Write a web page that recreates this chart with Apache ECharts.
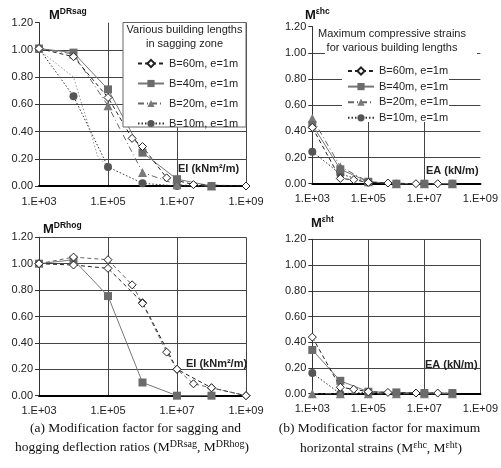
<!DOCTYPE html>
<html><head><meta charset="utf-8">
<script src="https://cdn.jsdelivr.net/npm/echarts@6/dist/echarts.min.js"></script>
<style>html,body{margin:0;padding:0;background:#fff}#c{width:501px;height:468px}</style>
</head><body><div id="c"></div>
<script>
// ---------- data ----------
const seriesNames = ['B=60m, e=1m', 'B=40m, e=1m', 'B=20m, e=1m', 'B=10m, e=1m'];
const xMin = 1e3, xMax = 1e9;
const yMin = 0, yMax = 1.2, yStep = 0.2;

// (a) sagging
const sagB60 = [[1e3,1.01],[1e4,0.95],[1e5,0.65],[5e5,0.35],[1e6,0.29],[5e6,0.06],[3e7,0.01],[1e9,0.0]];
const sagB40 = [[1e3,1.01],[1e4,0.98],[1e5,0.71],[1e6,0.245],[1e7,0.05],[1e8,0.0]];
const sagB20 = [[1e3,1.01],[1e4,0.97],[1e5,0.59],[1e6,0.10],[1e7,0.01],[1e8,0.0]];
const sagB10 = [[1e3,1.01],[1e4,0.66],[1e5,0.14],[1e6,0.02],[1e7,0.0],[1e8,0.0]];
const sagExtra = [[1e3,1.0],[1e4,0.80],[3e4,0.41],[5e4,0.22],[1e5,0.14]];
// (b) compressive strain
const hcB60 = [[1e3,0.43],[1e4,0.04],[3e4,0.03],[1e5,0.01],[5e5,0.005],[5e6,0.0],[3e7,0.0]];
const hcB40 = [[1e3,0.45],[1e4,0.11],[1e5,0.015],[1e6,0.0],[1e7,0.0],[1e8,0.0]];
const hcB20 = [[1e3,0.50],[1e4,0.13],[1e5,0.015],[1e6,0.0],[1e7,0.0],[1e8,0.0]];
const hcB10 = [[1e3,0.245],[1e4,0.075],[1e5,0.01],[1e6,0.0],[1e7,0.0],[1e8,0.0]];
// (a) hogging
const hogB60a = [[1e3,1.0],[1e4,1.05],[1e5,1.03],[5e5,0.84],[1e6,0.70],[5e6,0.33],[1e7,0.20],[3e7,0.09],[1e8,0.06],[1e9,0.0]];
const hogB60b = [[1e3,1.0],[1e4,0.99],[1e5,0.965],[1e6,0.705],[1e7,0.20],[1e8,0.06],[1e9,0.0]];
const hogB40 = [[1e3,1.0],[1e4,1.03],[1e5,0.755],[1e6,0.10],[1e7,0.0],[1e8,0.0]];
// (b) tensile strain
const htB60 = [[1e3,0.44],[1e4,0.05],[3e4,0.035],[1e5,0.015],[5e5,0.01],[5e6,0.005],[3e7,0.005]];
const htB40 = [[1e3,0.34],[1e4,0.10],[1e5,0.015],[1e6,0.01],[1e7,0.005],[1e8,0.005]];
const htB20 = [[1e3,0.0],[1e4,0.0],[1e5,0.0],[1e6,0.0],[1e7,0.0],[1e8,0.0]];
const htB10 = [[1e3,0.16],[1e4,0.0],[1e5,0.01],[1e6,0.005],[1e7,0.005],[1e8,0.005]];

// ---------- styles ----------
const SANS = 'Liberation Sans, Arial, sans-serif';
const SERIF = 'Liberation Serif, Times New Roman, serif';
const st = {
  B60: {symbol:'diamond', symbolSize:8, itemStyle:{color:'#fff', borderColor:'#222', borderWidth:1}, lineStyle:{color:'#222', width:1, type:[4,3]}},
  B40: {symbol:'rect', symbolSize:8, itemStyle:{color:'#6b6b6b'}, lineStyle:{color:'#777', width:1, type:'solid'}},
  B20: {symbol:'triangle', symbolSize:9, itemStyle:{color:'#7a7a7a'}, lineStyle:{color:'#666', width:1, type:[6,3,1,3]}},
  B10: {symbol:'circle', symbolSize:8, itemStyle:{color:'#555'}, lineStyle:{color:'#333', width:1, type:[1.5,2]}}
};
function S(name, key, data, g, extra) {
  return Object.assign({
    type:'line', name, data, xAxisIndex:g, yAxisIndex:g, clip:false,
    symbol: st[key].symbol, symbolSize: st[key].symbolSize,
    itemStyle: st[key].itemStyle, lineStyle: st[key].lineStyle,
    emphasis:{disabled:true}, animation:false, z: 3
  }, extra || {});
}

const grids = [
  {left:39, top:22.7, width:207, height:163.3},
  {left:312.3, top:26.7, width:169.7, height:157},
  {left:39, top:237.3, width:207, height:158.4},
  {left:312.3, top:239.3, width:169.7, height:154.4}
];
const showTop = [false, false, true, true];
const showRight = [true, false, true, true];

function xLabel(v){
  const e = Math.round(Math.log10(v));
  return (e % 2 === 1) ? '1.E+' + String(e).padStart(2,'0') : '';
}
const xAxes = grids.map((g,i)=>({
  type:'log', logBase:10, min:xMin, max:xMax, interval:1, gridIndex:i,
  axisLine:{show:true, onZero:false, lineStyle:{color:'#000', width:2}},
  axisTick:{show:false},
  axisLabel:{formatter:xLabel, fontSize:11, color:'#222', fontFamily:SANS, margin:10, showMinLabel:true, showMaxLabel:true},
  splitLine:{show:true, showMinLine:true, showMaxLine:showRight[i], lineStyle:{color:['#444','rgba(0,0,0,0)'], width:1}}
}));
const yAxes = grids.map((g,i)=>({
  type:'value', min:yMin, max:yMax, interval:yStep, gridIndex:i,
  axisLine:{show:true, lineStyle:{color:'#333', width:1}},
  axisTick:{show:true, length:4, lineStyle:{color:'#333'}},
  axisLabel:{formatter:v=>v.toFixed(2), fontSize:11, color:'#222', fontFamily:SANS, margin:6},
  splitLine:{show:true, showMinLine:false, showMaxLine:showTop[i], lineStyle:{color:'#444', width:1}}
}));

const series = [
  S(seriesNames[3], 'B10', sagB10, 0),
  S('extra', 'B10', sagExtra, 0, {symbol:'none', lineStyle:{color:'#999', width:1, type:[1.5,2]}}),
  S(seriesNames[2], 'B20', sagB20, 0),
  S(seriesNames[1], 'B40', sagB40, 0),
  S(seriesNames[0], 'B60', sagB60, 0),
  S(seriesNames[3], 'B10', hcB10, 1),
  S(seriesNames[2], 'B20', hcB20, 1),
  S(seriesNames[1], 'B40', hcB40, 1),
  S(seriesNames[0], 'B60', hcB60, 1),
  S(seriesNames[1], 'B40', hogB40, 2),
  S(seriesNames[0], 'B60', hogB60b, 2),
  S(seriesNames[0], 'B60', hogB60a, 2, {lineStyle:{color:'#666', width:1, type:[4,3]}}),
  S(seriesNames[3], 'B10', htB10, 3),
  S(seriesNames[2], 'B20', htB20, 3),
  S(seriesNames[1], 'B40', htB40, 3),
  S(seriesNames[0], 'B60', htB60, 3)
];

const legendBase = {
  orient:'vertical', data:seriesNames, itemWidth:26, itemHeight:9, padding:0,
  textStyle:{fontSize:11, color:'#222', fontFamily:SANS}, selectedMode:false, z:6
};
const legends = [
  Object.assign({}, legendBase, {left:137, top:58, itemGap:9}),
  Object.assign({}, legendBase, {left:347, top:65.5, itemGap:4.6})
];

function txt(x, y, text, font, align, extra) {
  return Object.assign({type:'text', z:7, silent:true, style:{x, y, text, font, fill:'#222', textAlign:align||'left', textVerticalAlign:'middle'}}, extra||{});
}
function mTitle(x, y, sup) {
  return {type:'text', z:7, silent:true, style:{x, y, text:'{m|M}{s|'+sup+'}', textAlign:'left', textVerticalAlign:'bottom',
    rich:{m:{fontSize:13, fontWeight:'bold', fontFamily:SANS, fill:'#111', verticalAlign:'bottom'},
          s:{fontSize:8.5, fontWeight:'bold', fontFamily:SANS, fill:'#111', verticalAlign:'bottom', padding:[0,0,6,0]}}}};
}
function caption(x, y, text) {
  return {type:'text', z:7, silent:true, style:{x, y, text, textAlign:'center', textVerticalAlign:'middle',
    rich:{n:{fontSize:13.5, fontFamily:SERIF, fill:'#111', verticalAlign:'bottom'},
          s:{fontSize:10, fontFamily:SERIF, fill:'#111', verticalAlign:'bottom', padding:[0,0,5,0]}}}};
}

const graphic = [
  // legend boxes
  {type:'rect', z:4, silent:true, shape:{x:123, y:22.5, width:123, height:104.5}, style:{fill:'#fff', stroke:'#666', lineWidth:1}},
  {type:'rect', z:4, silent:true, shape:{x:325, y:26, width:152, height:34}, style:{fill:'#fff'}},
  {type:'rect', z:4, silent:true, shape:{x:342, y:60, width:107, height:62}, style:{fill:'#fff'}},
  txt(184.5, 30, 'Various building lengths', '11px '+SANS, 'center'),
  txt(184.5, 44, 'in sagging zone', '11px '+SANS, 'center'),
  txt(392, 33.5, 'Maximum compressive strains', '11px '+SANS, 'center'),
  txt(392, 48, 'for various building lengths', '11px '+SANS, 'center'),
  // axis titles
  mTitle(49, 22, 'DRsag'),
  mTitle(305, 22, 'εhc'),
  mTitle(43, 236, 'DRhog'),
  mTitle(311, 230, 'εht'),
  txt(178, 169, 'EI (kNm²/m)', 'bold 11px '+SANS, 'left'),
  txt(426, 171, 'EA (kN/m)', 'bold 11px '+SANS, 'left'),
  txt(186, 364, 'EI (kNm²/m)', 'bold 11px '+SANS, 'left'),
  txt(425, 365, 'EA (kN/m)', 'bold 11px '+SANS, 'left'),
  // captions
  caption(135.5, 428, '{n|(a) Modification factor for sagging and}'),
  caption(132, 447, '{n|hogging deflection ratios (M}{s|DRsag}{n|, M}{s|DRhog}{n|)}'),
  caption(379.5, 428, '{n|(b) Modification factor for maximum}'),
  caption(381, 448, '{n|horizontal strains (M}{s|εhc}{n|, M}{s|εht}{n|)}')
];

const chart = echarts.init(document.getElementById('c'), null, {renderer:'canvas'});
chart.setOption({
  backgroundColor:'#fff', animation:false,
  grid: grids, xAxis: xAxes, yAxis: yAxes, series, legend: legends, graphic
});
</script></body></html>
